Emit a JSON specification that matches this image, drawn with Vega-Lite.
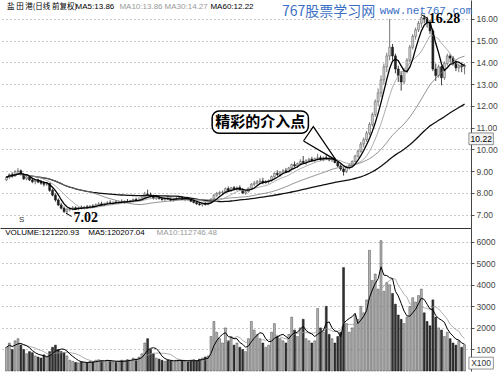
{
"$schema": "https://vega.github.io/schema/vega-lite/v6.json",
"background": "white",
"padding": 0,
"spacing": 0,
"config": {
 "view": {"stroke": null},
 "font": "Liberation Sans",
 "axis": {"gridDash": [1, 3], "gridColor": "#777", "gridOpacity": 1, "gridWidth": 0.8, "domainColor": "#444", "tickColor": "#555", "labelColor": "#444", "labelFontSize": 8.5, "labelFont": "Liberation Sans", "tickSize": 3, "labelPadding": 2, "labelOverlap": false, "labelBound": false, "title": null}
},
"datasets": {
 "k": [
  {"day":0,"open":8.60,"high":8.78,"low":8.55,"close":8.72,"vol":1100},
  {"day":1,"open":8.72,"high":8.90,"low":8.65,"close":8.85,"vol":1300},
  {"day":2,"open":8.85,"high":8.95,"low":8.70,"close":8.78,"vol":1000},
  {"day":3,"open":8.78,"high":9.05,"low":8.75,"close":8.98,"vol":1400},
  {"day":4,"open":8.98,"high":9.15,"low":8.85,"close":9.02,"vol":1500},
  {"day":5,"open":9.02,"high":9.08,"low":8.80,"close":8.85,"vol":1200},
  {"day":6,"open":8.85,"high":8.92,"low":8.60,"close":8.65,"vol":1000},
  {"day":7,"open":8.65,"high":8.80,"low":8.58,"close":8.74,"vol":800},
  {"day":8,"open":8.74,"high":8.82,"low":8.55,"close":8.60,"vol":900},
  {"day":9,"open":8.60,"high":8.70,"low":8.45,"close":8.52,"vol":850},
  {"day":10,"open":8.52,"high":8.62,"low":8.40,"close":8.58,"vol":700},
  {"day":11,"open":8.58,"high":8.66,"low":8.45,"close":8.50,"vol":650},
  {"day":12,"open":8.50,"high":8.60,"low":8.38,"close":8.45,"vol":600},
  {"day":13,"open":8.45,"high":8.55,"low":8.30,"close":8.40,"vol":750},
  {"day":14,"open":8.40,"high":8.48,"low":8.32,"close":8.44,"vol":650},
  {"day":15,"open":8.44,"high":8.46,"low":8.05,"close":8.12,"vol":900},
  {"day":16,"open":8.12,"high":8.20,"low":7.85,"close":7.90,"vol":1100},
  {"day":17,"open":7.90,"high":7.98,"low":7.60,"close":7.68,"vol":1200},
  {"day":18,"open":7.68,"high":7.75,"low":7.40,"close":7.45,"vol":1000},
  {"day":19,"open":7.45,"high":7.55,"low":7.25,"close":7.30,"vol":900},
  {"day":20,"open":7.30,"high":7.38,"low":7.08,"close":7.15,"vol":850},
  {"day":21,"open":7.15,"high":7.30,"low":7.02,"close":7.25,"vol":700},
  {"day":22,"open":7.25,"high":7.35,"low":7.15,"close":7.28,"vol":500},
  {"day":23,"open":7.28,"high":7.40,"low":7.20,"close":7.32,"vol":450},
  {"day":24,"open":7.32,"high":7.38,"low":7.22,"close":7.26,"vol":400},
  {"day":25,"open":7.26,"high":7.36,"low":7.20,"close":7.33,"vol":380},
  {"day":26,"open":7.33,"high":7.42,"low":7.25,"close":7.30,"vol":420},
  {"day":27,"open":7.30,"high":7.40,"low":7.24,"close":7.36,"vol":400},
  {"day":28,"open":7.36,"high":7.45,"low":7.28,"close":7.34,"vol":380},
  {"day":29,"open":7.34,"high":7.44,"low":7.30,"close":7.40,"vol":450},
  {"day":30,"open":7.40,"high":7.48,"low":7.34,"close":7.38,"vol":420},
  {"day":31,"open":7.38,"high":7.52,"low":7.35,"close":7.46,"vol":500},
  {"day":32,"open":7.46,"high":7.58,"low":7.40,"close":7.50,"vol":520},
  {"day":33,"open":7.50,"high":7.60,"low":7.42,"close":7.45,"vol":480},
  {"day":34,"open":7.45,"high":7.55,"low":7.40,"close":7.52,"vol":450},
  {"day":35,"open":7.52,"high":7.62,"low":7.46,"close":7.55,"vol":500},
  {"day":36,"open":7.55,"high":7.66,"low":7.48,"close":7.52,"vol":480},
  {"day":37,"open":7.52,"high":7.60,"low":7.45,"close":7.58,"vol":420},
  {"day":38,"open":7.58,"high":7.65,"low":7.50,"close":7.55,"vol":400},
  {"day":39,"open":7.55,"high":7.64,"low":7.48,"close":7.60,"vol":450},
  {"day":40,"open":7.60,"high":7.70,"low":7.52,"close":7.58,"vol":500},
  {"day":41,"open":7.58,"high":7.66,"low":7.50,"close":7.62,"vol":480},
  {"day":42,"open":7.62,"high":7.72,"low":7.55,"close":7.60,"vol":520},
  {"day":43,"open":7.60,"high":7.68,"low":7.52,"close":7.65,"vol":500},
  {"day":44,"open":7.65,"high":7.75,"low":7.58,"close":7.70,"vol":600},
  {"day":45,"open":7.70,"high":7.78,"low":7.62,"close":7.66,"vol":550},
  {"day":46,"open":7.66,"high":7.80,"low":7.62,"close":7.68,"vol":650},
  {"day":47,"open":7.68,"high":7.82,"low":7.64,"close":7.78,"vol":800},
  {"day":48,"open":7.78,"high":8.05,"low":7.72,"close":7.95,"vol":1300},
  {"day":49,"open":7.95,"high":8.15,"low":7.88,"close":7.92,"vol":1500},
  {"day":50,"open":7.92,"high":8.02,"low":7.80,"close":7.85,"vol":1000},
  {"day":51,"open":7.85,"high":7.92,"low":7.70,"close":7.76,"vol":800},
  {"day":52,"open":7.76,"high":7.86,"low":7.68,"close":7.80,"vol":600},
  {"day":53,"open":7.80,"high":7.88,"low":7.70,"close":7.74,"vol":550},
  {"day":54,"open":7.74,"high":7.82,"low":7.64,"close":7.70,"vol":500},
  {"day":55,"open":7.70,"high":7.80,"low":7.62,"close":7.75,"vol":450},
  {"day":56,"open":7.75,"high":7.85,"low":7.68,"close":7.72,"vol":500},
  {"day":57,"open":7.72,"high":7.80,"low":7.62,"close":7.66,"vol":480},
  {"day":58,"open":7.66,"high":7.76,"low":7.60,"close":7.72,"vol":450},
  {"day":59,"open":7.72,"high":7.82,"low":7.66,"close":7.76,"vol":500},
  {"day":60,"open":7.76,"high":7.85,"low":7.70,"close":7.80,"vol":520},
  {"day":61,"open":7.80,"high":7.84,"low":7.68,"close":7.70,"vol":480},
  {"day":62,"open":7.70,"high":7.78,"low":7.62,"close":7.74,"vol":450},
  {"day":63,"open":7.74,"high":7.82,"low":7.66,"close":7.68,"vol":430},
  {"day":64,"open":7.68,"high":7.76,"low":7.58,"close":7.62,"vol":500},
  {"day":65,"open":7.62,"high":7.70,"low":7.52,"close":7.56,"vol":520},
  {"day":66,"open":7.56,"high":7.64,"low":7.46,"close":7.50,"vol":480},
  {"day":67,"open":7.50,"high":7.58,"low":7.42,"close":7.46,"vol":550},
  {"day":68,"open":7.46,"high":7.55,"low":7.38,"close":7.52,"vol":600},
  {"day":69,"open":7.52,"high":7.60,"low":7.42,"close":7.48,"vol":650},
  {"day":70,"open":7.48,"high":7.58,"low":7.44,"close":7.55,"vol":700},
  {"day":71,"open":7.55,"high":7.75,"low":7.52,"close":7.72,"vol":1600},
  {"day":72,"open":7.72,"high":7.95,"low":7.68,"close":7.90,"vol":2300},
  {"day":73,"open":7.90,"high":8.05,"low":7.82,"close":7.98,"vol":1800},
  {"day":74,"open":7.98,"high":8.10,"low":7.90,"close":8.02,"vol":1500},
  {"day":75,"open":8.02,"high":8.12,"low":7.95,"close":8.05,"vol":1300},
  {"day":76,"open":8.05,"high":8.25,"low":7.98,"close":8.20,"vol":2000},
  {"day":77,"open":8.20,"high":8.30,"low":8.05,"close":8.10,"vol":1400},
  {"day":78,"open":8.10,"high":8.28,"low":8.05,"close":8.24,"vol":1600},
  {"day":79,"open":8.24,"high":8.32,"low":8.12,"close":8.18,"vol":1200},
  {"day":80,"open":8.18,"high":8.30,"low":8.10,"close":8.25,"vol":1300},
  {"day":81,"open":8.25,"high":8.35,"low":8.12,"close":8.15,"vol":1100},
  {"day":82,"open":8.15,"high":8.22,"low":7.95,"close":8.00,"vol":1000},
  {"day":83,"open":8.00,"high":8.10,"low":7.92,"close":8.06,"vol":900},
  {"day":84,"open":8.06,"high":8.25,"low":8.02,"close":8.22,"vol":1500},
  {"day":85,"open":8.22,"high":8.45,"low":8.18,"close":8.40,"vol":2300},
  {"day":86,"open":8.40,"high":8.55,"low":8.32,"close":8.45,"vol":1900},
  {"day":87,"open":8.45,"high":8.60,"low":8.38,"close":8.52,"vol":1700},
  {"day":88,"open":8.52,"high":8.68,"low":8.45,"close":8.55,"vol":1500},
  {"day":89,"open":8.55,"high":8.70,"low":8.40,"close":8.48,"vol":1300},
  {"day":90,"open":8.48,"high":8.60,"low":8.40,"close":8.52,"vol":1100},
  {"day":91,"open":8.52,"high":8.62,"low":8.42,"close":8.58,"vol":1200},
  {"day":92,"open":8.58,"high":8.80,"low":8.52,"close":8.75,"vol":1800},
  {"day":93,"open":8.75,"high":8.95,"low":8.70,"close":8.90,"vol":2200},
  {"day":94,"open":8.90,"high":9.05,"low":8.78,"close":8.85,"vol":1600},
  {"day":95,"open":8.85,"high":9.00,"low":8.75,"close":8.96,"vol":1500},
  {"day":96,"open":8.96,"high":9.10,"low":8.88,"close":9.02,"vol":1400},
  {"day":97,"open":9.02,"high":9.15,"low":8.92,"close":8.98,"vol":1300},
  {"day":98,"open":8.98,"high":9.20,"low":8.95,"close":9.15,"vol":1700},
  {"day":99,"open":9.15,"high":9.35,"low":9.08,"close":9.30,"vol":2500},
  {"day":100,"open":9.30,"high":9.45,"low":9.18,"close":9.25,"vol":1900},
  {"day":101,"open":9.25,"high":9.40,"low":9.15,"close":9.35,"vol":1600},
  {"day":102,"open":9.35,"high":9.55,"low":9.28,"close":9.45,"vol":2000},
  {"day":103,"open":9.45,"high":9.70,"low":9.38,"close":9.40,"vol":2400},
  {"day":104,"open":9.40,"high":9.55,"low":9.30,"close":9.48,"vol":1500},
  {"day":105,"open":9.48,"high":9.62,"low":9.40,"close":9.55,"vol":1400},
  {"day":106,"open":9.55,"high":9.66,"low":9.42,"close":9.50,"vol":1300},
  {"day":107,"open":9.50,"high":9.62,"low":9.40,"close":9.58,"vol":1400},
  {"day":108,"open":9.58,"high":9.80,"low":9.50,"close":9.62,"vol":2900},
  {"day":109,"open":9.62,"high":9.72,"low":9.48,"close":9.55,"vol":2000},
  {"day":110,"open":9.55,"high":9.68,"low":9.46,"close":9.62,"vol":1800},
  {"day":111,"open":9.62,"high":9.78,"low":9.52,"close":9.58,"vol":3000},
  {"day":112,"open":9.58,"high":9.68,"low":9.46,"close":9.52,"vol":1700},
  {"day":113,"open":9.52,"high":9.62,"low":9.42,"close":9.55,"vol":1500},
  {"day":114,"open":9.55,"high":9.60,"low":9.36,"close":9.40,"vol":1300},
  {"day":115,"open":9.40,"high":9.48,"low":9.18,"close":9.24,"vol":1600},
  {"day":116,"open":9.24,"high":9.32,"low":9.02,"close":9.10,"vol":1800},
  {"day":117,"open":9.10,"high":9.18,"low":8.80,"close":8.98,"vol":4800},
  {"day":118,"open":8.98,"high":9.25,"low":8.92,"close":9.18,"vol":2200},
  {"day":119,"open":9.18,"high":9.35,"low":9.08,"close":9.28,"vol":1800},
  {"day":120,"open":9.28,"high":9.50,"low":9.20,"close":9.45,"vol":2000},
  {"day":121,"open":9.45,"high":9.75,"low":9.40,"close":9.70,"vol":2600},
  {"day":122,"open":9.70,"high":10.00,"low":9.62,"close":9.92,"vol":2400},
  {"day":123,"open":9.92,"high":10.35,"low":9.85,"close":10.25,"vol":3000},
  {"day":124,"open":10.25,"high":10.55,"low":10.10,"close":10.45,"vol":2700},
  {"day":125,"open":10.45,"high":10.85,"low":10.35,"close":10.75,"vol":3300},
  {"day":126,"open":10.75,"high":11.25,"low":10.65,"close":11.15,"vol":5600},
  {"day":127,"open":11.15,"high":11.70,"low":11.05,"close":11.60,"vol":4200},
  {"day":128,"open":11.60,"high":12.30,"low":11.50,"close":12.20,"vol":4500},
  {"day":129,"open":12.20,"high":12.80,"low":12.00,"close":12.60,"vol":3800},
  {"day":130,"open":12.60,"high":13.40,"low":12.40,"close":13.20,"vol":6050},
  {"day":131,"open":13.20,"high":13.95,"low":13.00,"close":13.80,"vol":3700},
  {"day":132,"open":13.80,"high":14.45,"low":13.55,"close":14.30,"vol":4100},
  {"day":133,"open":14.30,"high":16.00,"low":14.10,"close":14.70,"vol":4000},
  {"day":134,"open":14.70,"high":14.85,"low":14.10,"close":14.30,"vol":3600},
  {"day":135,"open":14.30,"high":14.40,"low":13.50,"close":13.70,"vol":3100},
  {"day":136,"open":13.70,"high":13.85,"low":13.10,"close":13.40,"vol":2600},
  {"day":137,"open":13.40,"high":13.60,"low":12.70,"close":13.10,"vol":2400},
  {"day":138,"open":13.10,"high":13.75,"low":13.00,"close":13.60,"vol":2200},
  {"day":139,"open":13.60,"high":14.20,"low":13.50,"close":14.10,"vol":2500},
  {"day":140,"open":14.10,"high":14.80,"low":14.00,"close":14.70,"vol":3000},
  {"day":141,"open":14.70,"high":15.30,"low":14.60,"close":15.20,"vol":3400},
  {"day":142,"open":15.20,"high":15.60,"low":15.05,"close":15.50,"vol":3200},
  {"day":143,"open":15.50,"high":15.90,"low":15.40,"close":15.80,"vol":3500},
  {"day":144,"open":15.80,"high":16.28,"low":15.60,"close":16.05,"vol":3800},
  {"day":145,"open":16.05,"high":16.20,"low":15.80,"close":16.00,"vol":2700},
  {"day":146,"open":16.00,"high":16.10,"low":15.60,"close":15.85,"vol":2300},
  {"day":147,"open":15.85,"high":15.95,"low":15.30,"close":15.45,"vol":2100},
  {"day":148,"open":15.45,"high":15.55,"low":13.60,"close":13.70,"vol":3300},
  {"day":149,"open":13.70,"high":13.95,"low":13.15,"close":13.40,"vol":2500},
  {"day":150,"open":13.40,"high":13.90,"low":13.30,"close":13.80,"vol":2000},
  {"day":151,"open":13.80,"high":13.85,"low":12.95,"close":13.30,"vol":1900},
  {"day":152,"open":13.30,"high":14.05,"low":13.20,"close":13.95,"vol":1600},
  {"day":153,"open":13.95,"high":14.40,"low":13.85,"close":14.30,"vol":1800},
  {"day":154,"open":14.30,"high":14.40,"low":14.00,"close":14.20,"vol":1500},
  {"day":155,"open":14.20,"high":14.30,"low":13.85,"close":14.00,"vol":1300},
  {"day":156,"open":14.00,"high":14.10,"low":13.60,"close":13.75,"vol":1200},
  {"day":157,"open":13.75,"high":13.95,"low":13.55,"close":13.85,"vol":1400},
  {"day":158,"open":13.85,"high":14.00,"low":13.55,"close":13.80,"vol":1100},
  {"day":159,"open":13.80,"high":13.95,"low":13.45,"close":13.86,"vol":1212}
 ]
},
"vconcat": [
 {
  "width": 471,
  "height": 228,
  "layer": [
   {
    "data": {"name": "k"},
    "mark": {"type": "rule", "strokeWidth": 0.8},
    "encoding": {
     "x": {"field": "day", "type": "quantitative", "scale": {"domain": [-0.5, 159.5], "nice": false, "zero": false}, "axis": null},
     "y": {"field": "low", "type": "quantitative", "scale": {"domain": [6.39, 16.87], "nice": false, "zero": false}, "axis": {"orient": "right", "values": [7, 8, 9, 10, 11, 12, 13, 14, 15, 16], "format": ".2f", "grid": true, "labelOverlap": false, "labelBound": false, "tickCount": 10}},
     "y2": {"field": "high"},
     "color": {"condition": {"test": "datum.close >= datum.open", "value": "#555"}, "value": "#111"}
    }
   },
   {
    "data": {"name": "k"},
    "mark": {"type": "bar", "size": 2, "strokeWidth": 0.5},
    "encoding": {
     "x": {"field": "day", "type": "quantitative"},
     "y": {"field": "open", "type": "quantitative"},
     "y2": {"field": "close"},
     "fill": {"condition": {"test": "datum.close >= datum.open", "value": "#d0d0d0"}, "value": "#222"},
     "stroke": {"condition": {"test": "datum.close >= datum.open", "value": "#555"}, "value": "#111"}
    }
   },
   {
    "data": {"name": "k"},
    "transform": [{"window": [{"op": "mean", "field": "close", "as": "ma60"}], "frame": [-59, 0], "sort": [{"field": "day"}]}],
    "mark": {"type": "line", "color": "#111", "strokeWidth": 1.3},
    "encoding": {"x": {"field": "day", "type": "quantitative"}, "y": {"field": "ma60", "type": "quantitative"}}
   },
   {
    "data": {"name": "k"},
    "transform": [{"window": [{"op": "mean", "field": "close", "as": "ma30"}], "frame": [-29, 0], "sort": [{"field": "day"}]}],
    "mark": {"type": "line", "color": "#777", "strokeWidth": 0.8},
    "encoding": {"x": {"field": "day", "type": "quantitative"}, "y": {"field": "ma30", "type": "quantitative"}}
   },
   {
    "data": {"name": "k"},
    "transform": [{"window": [{"op": "mean", "field": "close", "as": "ma10"}], "frame": [-9, 0], "sort": [{"field": "day"}]}],
    "mark": {"type": "line", "color": "#999", "strokeWidth": 0.8},
    "encoding": {"x": {"field": "day", "type": "quantitative"}, "y": {"field": "ma10", "type": "quantitative"}}
   },
   {
    "data": {"name": "k"},
    "transform": [{"window": [{"op": "mean", "field": "close", "as": "ma5"}], "frame": [-4, 0], "sort": [{"field": "day"}]}],
    "mark": {"type": "line", "color": "#000", "strokeWidth": 1.3},
    "encoding": {"x": {"field": "day", "type": "quantitative"}, "y": {"field": "ma5", "type": "quantitative"}}
   },
   {
    "data": {"values": [
     {"t": "盐 田 港(日线 前复权)", "d": 0.18, "p": 16.55}
    ]},
    "mark": {"type": "text", "align": "left", "baseline": "middle", "fontSize": 7.5, "font": "Noto Sans CJK SC", "color": "#000"},
    "encoding": {
     "x": {"field": "d", "type": "quantitative"},
     "y": {"field": "p", "type": "quantitative"},
     "text": {"field": "t"}
    }
   },
   {
    "data": {"values": [
     {"t": "MA5:13.86", "d": 24.0, "p": 16.55, "g": "dark"},
     {"t": "MA10:13.86", "d": 39.2, "p": 16.55, "g": "light"},
     {"t": "MA30:14.27", "d": 54.9, "p": 16.55, "g": "light"},
     {"t": "MA60:12.22", "d": 70.8, "p": 16.55, "g": "dark"}
    ]},
    "mark": {"type": "text", "align": "left", "baseline": "middle", "fontSize": 8, "font": "Liberation Sans"},
    "encoding": {
     "x": {"field": "d", "type": "quantitative"},
     "y": {"field": "p", "type": "quantitative"},
     "text": {"field": "t"},
     "color": {"field": "g", "type": "nominal", "scale": {"domain": ["dark", "light"], "range": ["#000", "#999"]}, "legend": null}
    }
   },
   {
    "data": {"values": [{"t": "767股票学习网", "d": 95.6, "p": 16.33}]},
    "mark": {"type": "text", "align": "left", "baseline": "middle", "fontSize": 14, "font": "Noto Sans CJK SC", "color": "#3b6fc6"},
    "encoding": {"x": {"field": "d", "type": "quantitative"}, "y": {"field": "p", "type": "quantitative"}, "text": {"field": "t"}}
   },
   {
    "data": {"values": [{"t": "www.net767.com", "d": 129.6, "p": 16.38}]},
    "mark": {"type": "text", "align": "left", "baseline": "middle", "fontSize": 11, "font": "Liberation Mono", "color": "#3b6fc6"},
    "encoding": {"x": {"field": "d", "type": "quantitative"}, "y": {"field": "p", "type": "quantitative"}, "text": {"field": "t"}}
   },
   {
    "data": {"values": [{"d1": 71.4, "d2": 104.8, "p1": 10.74, "p2": 11.77}]},
    "mark": {"type": "rect", "fill": "white", "stroke": "#000", "strokeWidth": 1.5, "cornerRadius": 7},
    "encoding": {"x": {"field": "d1", "type": "quantitative"}, "x2": {"field": "d2"}, "y": {"field": "p1", "type": "quantitative"}, "y2": {"field": "p2"}}
   },
   {
    "data": {"values": [
     {"i": 0, "d": 103.1, "p": 10.39},
     {"i": 1, "d": 106.5, "p": 11.05},
     {"i": 2, "d": 114.4, "p": 9.51},
     {"i": 3, "d": 103.1, "p": 10.39}
    ]},
    "mark": {"type": "line", "fill": "white", "stroke": "#000", "strokeWidth": 1.2},
    "encoding": {"x": {"field": "d", "type": "quantitative"}, "y": {"field": "p", "type": "quantitative"}, "order": {"field": "i"}}
   },
   {
    "data": {"values": [{"t": "精彩的介入点", "d": 88.1, "p": 11.25}]},
    "mark": {"type": "text", "align": "center", "baseline": "middle", "fontSize": 15, "fontWeight": "bold", "font": "Noto Sans CJK SC", "color": "#000"},
    "encoding": {"x": {"field": "d", "type": "quantitative"}, "y": {"field": "p", "type": "quantitative"}, "text": {"field": "t"}}
   },
   {
    "data": {"values": [{"t": "7.02", "d": 23.3, "p": 6.86}, {"t": "16.28", "d": 146.6, "p": 15.98}]},
    "mark": {"type": "text", "align": "left", "baseline": "middle", "fontSize": 14, "fontWeight": "bold", "font": "Liberation Serif", "color": "#000"},
    "encoding": {"x": {"field": "d", "type": "quantitative"}, "y": {"field": "p", "type": "quantitative"}, "text": {"field": "t"}}
   },
   {
    "data": {"values": [{"d1": 20.6, "d2": 22.6, "p1": 7.08, "p2": 6.92}, {"d1": 144.2, "d2": 146.3, "p1": 16.18, "p2": 16.02}]},
    "mark": {"type": "rule", "color": "#000", "strokeWidth": 1},
    "encoding": {"x": {"field": "d1", "type": "quantitative"}, "x2": {"field": "d2"}, "y": {"field": "p1", "type": "quantitative"}, "y2": {"field": "p2"}}
   },
   {
    "data": {"values": [{"t": "S", "d": 5.3, "p": 6.76}]},
    "mark": {"type": "text", "align": "center", "baseline": "middle", "fontSize": 8, "color": "#333"},
    "encoding": {"x": {"field": "d", "type": "quantitative"}, "y": {"field": "p", "type": "quantitative"}, "text": {"field": "t"}}
   },
   {
    "data": {"values": [{"d1": 160.5, "d2": 169.0, "p1": 10.22, "p2": 10.76}]},
    "mark": {"type": "rect", "fill": "#f2f2f2", "stroke": "#777", "strokeWidth": 0.8},
    "encoding": {"x": {"field": "d1", "type": "quantitative"}, "x2": {"field": "d2"}, "y": {"field": "p1", "type": "quantitative"}, "y2": {"field": "p2"}}
   },
   {
    "data": {"values": [{"t": "10.22", "d": 161.1, "p": 10.49}]},
    "mark": {"type": "text", "align": "left", "baseline": "middle", "fontSize": 8.5, "color": "#000"},
    "encoding": {"x": {"field": "d", "type": "quantitative"}, "y": {"field": "p", "type": "quantitative"}, "text": {"field": "t"}}
   }
  ]
 },
 {
  "width": 471,
  "height": 143,
  "layer": [
   {
    "data": {"name": "k"},
    "mark": {"type": "bar", "size": 1.9, "strokeWidth": 0.5},
    "encoding": {
     "x": {"field": "day", "type": "quantitative", "scale": {"domain": [-0.5, 159.5], "nice": false, "zero": false}, "axis": {"orient": "top", "labels": false, "ticks": false, "grid": false, "domain": true, "domainColor": "#333"}},
     "y": {"field": "vol", "type": "quantitative", "scale": {"domain": [0, 6636], "nice": false}, "axis": {"orient": "right", "values": [1000, 2000, 3000, 4000, 5000, 6000], "format": "d", "grid": true, "labelOverlap": false, "labelBound": false, "tickCount": 6}},
     "fill": {"condition": {"test": "datum.close >= datum.open", "value": "#b8b8b8"}, "value": "#333"},
     "stroke": {"condition": {"test": "datum.close >= datum.open", "value": "#444"}, "value": "#111"}
    }
   },
   {
    "data": {"name": "k"},
    "transform": [{"window": [{"op": "mean", "field": "vol", "as": "vma10"}], "frame": [-9, 0], "sort": [{"field": "day"}]}],
    "mark": {"type": "line", "color": "#999", "strokeWidth": 0.8},
    "encoding": {"x": {"field": "day", "type": "quantitative"}, "y": {"field": "vma10", "type": "quantitative"}}
   },
   {
    "data": {"name": "k"},
    "transform": [{"window": [{"op": "mean", "field": "vol", "as": "vma5"}], "frame": [-4, 0], "sort": [{"field": "day"}]}],
    "mark": {"type": "line", "color": "#000", "strokeWidth": 1},
    "encoding": {"x": {"field": "day", "type": "quantitative"}, "y": {"field": "vma5", "type": "quantitative"}}
   },
   {
    "data": {"values": [
     {"t": "VOLUME:121220.93", "d": -0.4, "v": 6400, "g": "dark"},
     {"t": "MA5:120207.04", "d": 28.4, "v": 6400, "g": "dark"},
     {"t": "MA10:112746.48", "d": 52.1, "v": 6400, "g": "light"}
    ]},
    "mark": {"type": "text", "align": "left", "baseline": "middle", "fontSize": 8, "font": "Liberation Sans"},
    "encoding": {
     "x": {"field": "d", "type": "quantitative"},
     "y": {"field": "v", "type": "quantitative"},
     "text": {"field": "t"},
     "color": {"field": "g", "type": "nominal", "scale": {"domain": ["dark", "light"], "range": ["#000", "#999"]}, "legend": null}
    }
   },
   {
    "data": {"values": [{"d1": 160.5, "d2": 169.0, "v1": 90, "v2": 640}]},
    "mark": {"type": "rect", "fill": "white", "stroke": "#777", "strokeWidth": 0.8},
    "encoding": {"x": {"field": "d1", "type": "quantitative"}, "x2": {"field": "d2"}, "y": {"field": "v1", "type": "quantitative"}, "y2": {"field": "v2"}}
   },
   {
    "data": {"values": [{"t": "X100", "d": 161.3, "v": 365}]},
    "mark": {"type": "text", "align": "left", "baseline": "middle", "fontSize": 8.5, "color": "#333"},
    "encoding": {"x": {"field": "d", "type": "quantitative"}, "y": {"field": "v", "type": "quantitative"}, "text": {"field": "t"}}
   }
  ]
 }
]
}
